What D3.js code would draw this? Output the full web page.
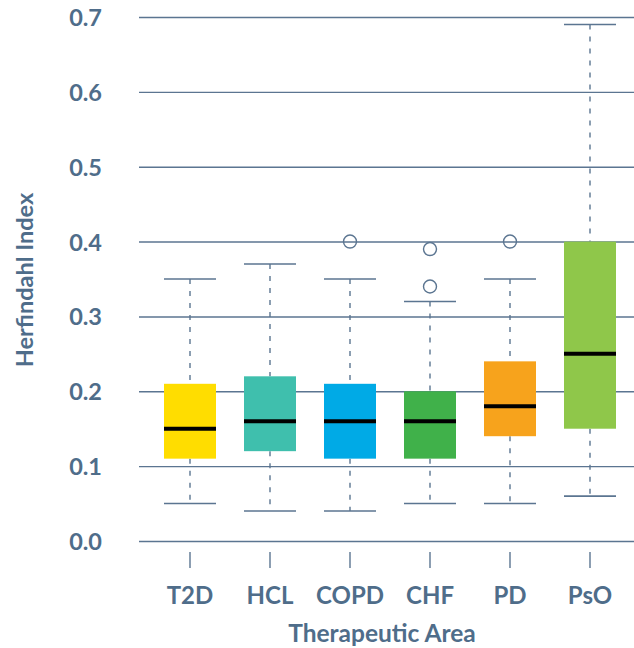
<!DOCTYPE html>
<html><head><meta charset="utf-8">
<script src="https://cdn.jsdelivr.net/npm/d3@7"></script>
<style>body{margin:0;background:#fff}svg{display:block}</style>
</head><body>
<svg id="c" width="634" height="648"></svg>
<script>
const categories = ["T2D","HCL","COPD","CHF","PD","PsO"];
const whiskerLow = [0.05,0.04,0.04,0.05,0.05,0.06];
const q1 =        [0.11,0.12,0.11,0.11,0.14,0.15];
const median =    [0.15,0.16,0.16,0.16,0.18,0.25];
const q3 =        [0.21,0.22,0.21,0.20,0.24,0.40];
const whiskerHigh=[0.35,0.37,0.35,0.32,0.35,0.69];
const outliers =  [[],[],[0.40],[0.39,0.34],[0.40],[]];
const colors = ["#FFDD00","#3FBFAD","#00AAE6","#40B14A","#F7A31C","#8FC74A"];
const yTicks = [0,0.1,0.2,0.3,0.4,0.5,0.6,0.7];

const svg = d3.select("#c");
const txt = "#4f6d8a", line = "#5b7591";
const y = d3.scaleLinear().domain([0,0.7]).range([541,17]);
const x = d3.scaleBand().domain(categories).range([150,630]).paddingInner(0.35).paddingOuter(0.175);
const bw = x.bandwidth();

// gridlines + y labels
const yAxis = d3.axisLeft(y).tickValues(yTicks).tickFormat(d3.format(".1f")).tickSize(0).tickPadding(37);
const gy = svg.append("g").attr("transform","translate(139,0)").call(yAxis);
gy.select(".domain").remove();
gy.selectAll(".tick line").attr("stroke",line).attr("stroke-width",1.4).attr("x1",0).attr("x2",495);
gy.selectAll(".tick text").attr("fill",txt).attr("font-family","Lato").attr("font-weight","bold").attr("font-size","23.5px").attr("dy","0.36em");

// x axis
const xAxis = d3.axisBottom(x).tickSize(16).tickPadding(19);
const gx = svg.append("g").attr("transform","translate(0,552)").call(xAxis);
gx.select(".domain").remove();
gx.selectAll(".tick line").attr("stroke",line).attr("stroke-width",1.4);
gx.selectAll(".tick text").attr("fill",txt).attr("font-family","Lato").attr("font-weight","bold").attr("font-size","24px");

const data = categories.map((c,i)=>({c,i}));
const g = svg.append("g");
const cx = d => x(d.c)+bw/2;
// whiskers
g.selectAll(".wl").data(data).join("line")
 .attr("x1",cx).attr("x2",cx).attr("y1",d=>y(whiskerHigh[d.i])).attr("y2",d=>y(q3[d.i]))
 .attr("stroke",line).attr("stroke-width",1.4).attr("stroke-dasharray","5,7");
g.selectAll(".wl2").data(data).join("line")
 .attr("x1",cx).attr("x2",cx).attr("y1",d=>y(q1[d.i])).attr("y2",d=>y(whiskerLow[d.i]))
 .attr("stroke",line).attr("stroke-width",1.4).attr("stroke-dasharray","5,7");
// caps
[whiskerHigh, whiskerLow].forEach(arr=>{
  g.selectAll(null).data(data).join("line")
   .attr("x1",d=>x(d.c)).attr("x2",d=>x(d.c)+bw).attr("y1",d=>y(arr[d.i])).attr("y2",d=>y(arr[d.i]))
   .attr("stroke",line).attr("stroke-width",1.6);
});
// boxes
g.selectAll("rect").data(data).join("rect")
 .attr("x",d=>x(d.c)).attr("width",bw).attr("y",d=>y(q3[d.i])).attr("height",d=>y(q1[d.i])-y(q3[d.i]))
 .attr("fill",d=>colors[d.i]);
// medians
g.selectAll(".med").data(data).join("line")
 .attr("x1",d=>x(d.c)).attr("x2",d=>x(d.c)+bw).attr("y1",d=>y(median[d.i])).attr("y2",d=>y(median[d.i]))
 .attr("stroke","#000").attr("stroke-width",4);
// outliers
const outs = data.flatMap(d=>outliers[d.i].map(v=>({c:d.c,v})));
g.selectAll("circle").data(outs).join("circle")
 .attr("cx",d=>x(d.c)+bw/2).attr("cy",d=>y(d.v)).attr("r",6.5)
 .attr("fill","none").attr("stroke",line).attr("stroke-width",1.4);

// titles
svg.append("text").attr("x",382).attr("y",642).attr("text-anchor","middle")
 .attr("fill",txt).attr("font-family","Lato").attr("font-weight","bold").attr("font-size","24.5px").text("Therapeutic Area");
svg.append("text").attr("transform","translate(33,280) rotate(-90)").attr("text-anchor","middle")
 .attr("fill",txt).attr("font-family","Lato").attr("font-weight","bold").attr("font-size","23.5px").text("Herfindahl Index");
</script>
</body></html>
